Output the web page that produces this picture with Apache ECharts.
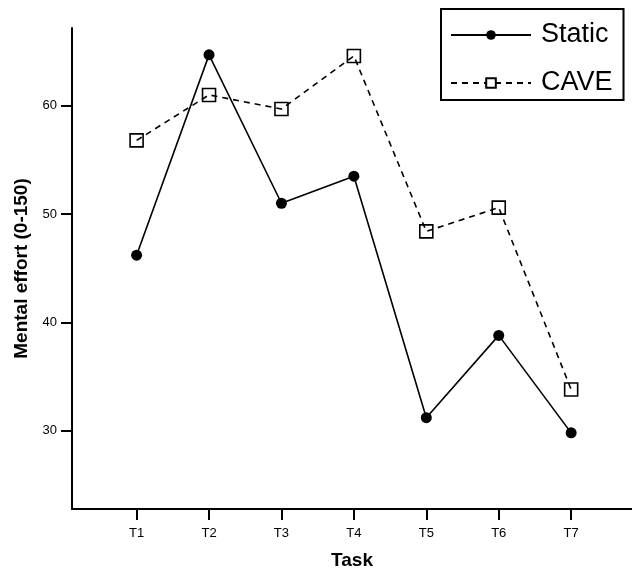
<!DOCTYPE html>
<html>
<head>
<meta charset="utf-8">
<script src="https://cdn.jsdelivr.net/npm/echarts@6/dist/echarts.min.js"></script>
<style>
  html, body { margin: 0; padding: 0; background: #fff; }
  #chart { width: 632px; height: 571px; }
</style>
</head>
<body>
<div id="chart"></div>
<script>
// tasks on the x axis (1..7)
var tasks = ['T1', 'T2', 'T3', 'T4', 'T5', 'T6', 'T7'];
var staticVals = [46.2, 64.7, 51.0, 53.5, 31.2, 38.8, 29.8];
var caveVals = [56.8, 61.0, 59.7, 64.6, 48.4, 50.6, 33.8];
var yTicks = [30, 40, 50, 60];

var taskPos = tasks.map(function (t, i) { return i + 1; });
function pairs(vals) {
  return vals.map(function (v, i) { return [taskPos[i], v]; });
}

var chart = echarts.init(document.getElementById('chart'));
chart.setOption({
  backgroundColor: '#fff',
  animation: false,
  textStyle: { fontFamily: 'Liberation Sans, Arial, sans-serif', color: '#000' },
  grid: { left: 72, top: 28, right: 0, bottom: 62, outerBoundsMode: 'none' },
  legend: {
    left: 441,
    top: 9,
    orient: 'vertical',
    padding: [11, 11, 2, 9],
    itemGap: 18,
    itemWidth: 80,
    itemHeight: 12,
    borderColor: '#000',
    borderWidth: 2,
    textStyle: { fontSize: 27, lineHeight: 30, color: '#000', padding: [0, 0, 0, 5] },
    data: [
      { name: 'Static' },
      { name: 'CAVE', itemStyle: { color: '#fff' } }
    ]
  },
  xAxis: {
    type: 'value',
    min: 0.108,
    max: 7.84,
    name: 'Task',
    nameLocation: 'middle',
    nameGap: 42,
    nameTextStyle: { fontSize: 19, fontWeight: 'bold', color: '#000' },
    splitLine: { show: false },
    axisLine: { lineStyle: { color: '#000', width: 2 } },
    axisTick: { length: 11, lineStyle: { color: '#000', width: 2 }, customValues: taskPos },
    axisLabel: {
      fontSize: 13, color: '#000', margin: 18,
      customValues: taskPos,
      formatter: function (v) { return tasks[Math.round(v) - 1] || ''; }
    }
  },
  yAxis: {
    type: 'value',
    min: 22.77,
    max: 67.18,
    name: 'Mental effort (0-150)',
    nameLocation: 'middle',
    nameGap: 40,
    nameTextStyle: { fontSize: 19, fontWeight: 'bold', color: '#000' },
    splitLine: { show: false },
    axisLine: { show: true, lineStyle: { color: '#000', width: 2 } },
    axisTick: { show: true, length: 11, lineStyle: { color: '#000', width: 2 }, customValues: yTicks },
    axisLabel: { fontSize: 13, color: '#000', margin: 15, customValues: yTicks }
  },
  series: [
    {
      name: 'Static',
      type: 'line',
      data: pairs(staticVals),
      symbol: 'circle',
      symbolSize: 11,
      itemStyle: { color: '#000' },
      lineStyle: { color: '#000', width: 1.6 }
    },
    {
      name: 'CAVE',
      type: 'line',
      data: pairs(caveVals),
      symbol: 'rect',
      symbolSize: 13,
      itemStyle: { color: 'transparent', borderColor: '#000', borderWidth: 1.6 },
      lineStyle: { color: '#000', width: 1.6, type: [6, 5] }
    }
  ]
});
</script>
</body>
</html>
